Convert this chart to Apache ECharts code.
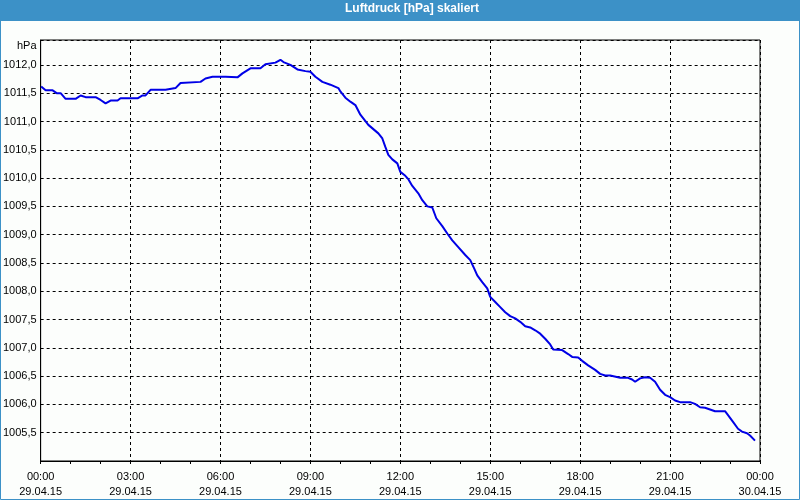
<!DOCTYPE html>
<html>
<head>
<meta charset="utf-8">
<script src="https://cdn.jsdelivr.net/npm/echarts@6/dist/echarts.min.js"></script>
<style>
html,body{margin:0;padding:0;background:#fcfefc;}
#c{width:800px;height:500px;}
</style>
</head>
<body>
<div id="c"></div>
<script>
const titleText = 'Luftdruck [hPa] skaliert';
const unitText = 'hPa';
const dateLabels = ['29.04.15','29.04.15','29.04.15','29.04.15','29.04.15','29.04.15','29.04.15','29.04.15','30.04.15'];
const times = ['00:01','00:10','00:24','00:32','00:40','00:50','01:10','01:20','01:30','01:50',
'02:00','02:10','02:20','02:34','02:40','03:14','03:24','03:30','03:40','04:10',
'04:30','04:40','05:20','05:30','05:44','06:10','06:14','06:34','06:44','07:00',
'07:20','07:30','07:50','08:00','08:06','08:20','08:34','08:50','09:00','09:10',
'09:24','09:40','09:56','10:00','10:10','10:20','10:30','10:40','10:56','11:16',
'11:24','11:30','11:36','11:44','11:54','12:00','12:10','12:16','12:24','12:36',
'12:44','12:54','13:04','13:12','13:24','13:34','13:44','13:56','14:10','14:20',
'14:28','14:34','14:44','14:54','15:00','15:10','15:20','15:30','15:40','15:50',
'16:00','16:10','16:20','16:30','16:40','16:50','17:00','17:06','17:24','17:36',
'17:44','17:56','18:04','18:16','18:30','18:40','18:50','19:00','19:04','19:20',
'19:36','19:44','19:50','20:00','20:10','20:20','20:30','20:40','20:50','21:00',
'21:10','21:20','21:40','21:50','22:00','22:10','22:20','22:30','22:50','22:56',
'23:06','23:16','23:24','23:34','23:40','23:50'];
const pressure = [1011.62,1011.55,1011.55,1011.50,1011.50,1011.40,1011.40,1011.46,1011.43,1011.43,
1011.38,1011.32,1011.37,1011.37,1011.41,1011.41,1011.46,1011.46,1011.56,1011.56,
1011.59,1011.68,1011.70,1011.76,1011.79,1011.79,1011.78,1011.78,1011.85,1011.94,
1011.94,1012.01,1012.04,1012.09,1012.05,1012.00,1011.92,1011.89,1011.88,1011.79,
1011.70,1011.65,1011.59,1011.53,1011.42,1011.35,1011.29,1011.12,1010.94,1010.79,
1010.70,1010.55,1010.41,1010.33,1010.26,1010.11,1010.04,1009.98,1009.86,1009.73,
1009.61,1009.50,1009.48,1009.29,1009.15,1009.02,1008.90,1008.78,1008.64,1008.55,
1008.40,1008.28,1008.16,1008.05,1007.90,1007.81,1007.72,1007.63,1007.56,1007.52,
1007.46,1007.38,1007.36,1007.31,1007.25,1007.16,1007.06,1006.97,1006.96,1006.89,
1006.84,1006.83,1006.77,1006.69,1006.61,1006.54,1006.51,1006.51,1006.53,1006.47,
1006.47,1006.44,1006.40,1006.46,1006.48,1006.47,1006.40,1006.26,1006.17,1006.13,
1006.07,1006.04,1006.04,1006.01,1005.95,1005.94,1005.91,1005.88,1005.88,1005.81,
1005.69,1005.57,1005.52,1005.49,1005.45,1005.36];

function toMin(s){const p=s.split(':');return (+p[0])*60+(+p[1]);}
const data = times.map((t,i)=>[toMin(t), pressure[i]]);
const font = '"Liberation Sans", Arial, sans-serif';

const chart = echarts.init(document.getElementById('c'), null, {renderer:'canvas'});
chart.setOption({
  backgroundColor:'#fcfefc',
  animation:false,
  title:{text:titleText, left:345, top:3, padding:0,
    textStyle:{color:'#ffffff', fontSize:12, fontWeight:'bold', fontFamily:font}},
  graphic:[
    {type:'rect', z:-1, shape:{x:0,y:0,width:800,height:21}, style:{fill:'#3c91c7'}},
    {type:'rect', z:100, shape:{x:0.5,y:0.5,width:799,height:499}, style:{fill:null, stroke:'#3c91c7', lineWidth:1}},
    {type:'text', left:17, top:40, style:{text:unitText, fill:'#000', font:'11px '+font}}
  ],
  grid:{left:40, right:40, top:40, bottom:39, show:true, borderColor:'#000', borderWidth:1, backgroundColor:'#fcfefc'},
  xAxis:{type:'value', min:0, max:1440, interval:180,
    axisLine:{show:true, lineStyle:{color:'#000', width:1}},
    axisTick:{show:true, length:3, lineStyle:{color:'#000'}},
    minorTick:{show:true, splitNumber:3, length:3, lineStyle:{color:'#000'}},
    splitLine:{show:true, lineStyle:{color:'#000', type:[3,3], width:1}},
    axisLabel:{color:'#000', fontSize:11, fontFamily:font, margin:8, lineHeight:15,
      formatter:function(v){const h=Math.round(v/60)%24; const i=Math.round(v/180); return (h<10?'0':'')+h+':00\n'+dateLabels[i];}}
  },
  yAxis:{type:'value', min:1005, max:1012.44, interval:0.5,
    axisLine:{show:true, lineStyle:{color:'#000'}},
    axisTick:{show:false},
    splitLine:{show:true, lineStyle:{color:'#000', type:[3,3], width:1}},
    axisLabel:{color:'#000', fontSize:11, fontFamily:font, margin:4,
      formatter:function(v){ if(v<1005.4||v>1012.1) return ''; return v.toFixed(1).replace('.',','); }}
  },
  series:[{type:'line', data:data, showSymbol:false, symbol:'none',
    lineStyle:{color:'#0000e6', width:2}}]
});
</script>
</body>
</html>
